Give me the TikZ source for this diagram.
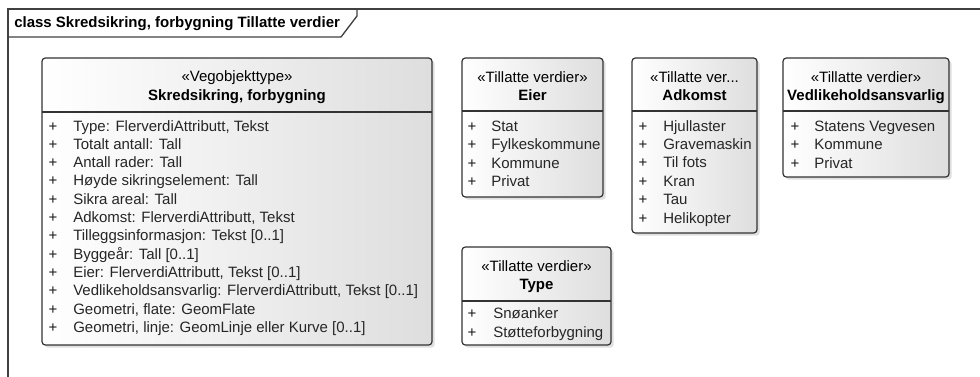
\documentclass[tikz,border=0pt]{standalone}
\usepackage{fontspec}
\setmainfont{Liberation Sans}
\usetikzlibrary{shadows}
\tikzset{
  classbox/.style={draw=black!80, line width=0.9pt, rounded corners=2.5pt,
    left color=white, right color=black!13,
    drop shadow={shadow xshift=2pt, shadow yshift=-2pt, opacity=0.25}},
  sepline/.style={draw=black!80, line width=0.9pt},
  stereo/.style={anchor=mid, inner sep=0pt, font=\fontsize{11.25}{13}\selectfont},
  cname/.style={anchor=mid, inner sep=0pt, font=\fontsize{11.25}{13}\selectfont\bfseries},
  plus/.style={anchor=mid, inner sep=0pt, text=black!90, font=\fontsize{11.25}{13}\selectfont},
  attr/.style={anchor=mid west, inner sep=0pt, text=black!85, font=\fontsize{11.25}{13}\selectfont},
}
\begin{document}
\begin{tikzpicture}[x=0.75pt, y=-0.75pt]
	\useasboundingbox (0,0) rectangle (980,376);
	% frame and tab
	\draw[black!75, line width=1pt] (8,9) rectangle (995,395);
	\draw[black!75, line width=1pt] (8,37) -- (341,37) -- (357,16) -- (357,9);
	\node[anchor=mid west, inner sep=0pt, font=\fontsize{11.25}{13}\selectfont\bfseries] (title) at (14,24) {class Skredsikring, forbygning Tillatte verdier};
	% Skredsikring, forbygning
	\path[classbox] (42,58) rectangle (432,345);
	\draw[sepline] (42,112) -- (432,112);
	\node[stereo] (veg-st) at (237,77.5) {«Vegobjekttype»};
	\node[cname] (veg-nm) at (237,96.5) {Skredsikring, forbygning};
	\foreach \t [count=\i from 0] in {{Type: FlerverdiAttributt, Tekst}, {Totalt antall: Tall}, {Antall rader: Tall}, {Høyde sikringselement: Tall}, {Sikra areal: Tall}, {Adkomst: FlerverdiAttributt, Tekst}, {Tilleggsinformasjon: Tekst [0..1]}, {Byggeår: Tall [0..1]}, {Eier: FlerverdiAttributt, Tekst [0..1]}, {Vedlikeholdsansvarlig: FlerverdiAttributt, Tekst [0..1]}, {Geometri, flate: GeomFlate}, {Geometri, linje: GeomLinje eller Kurve [0..1]}}{
		\node[plus] (veg-p\i) at (53,127.5+18.3*\i) {+};
		\node[attr] (veg-a\i) at (73,127.5+18.3*\i) {\t};
	}
	% Eier
	\path[classbox] (462,58) rectangle (603,197);
	\draw[sepline] (462,111) -- (603,111);
	\node[stereo] (eier-st) at (532.5,78.5) {«Tillatte verdier»};
	\node[cname] (eier-nm) at (532.5,96.5) {Eier};
	\foreach \t [count=\i from 0] in {Stat, Fylkeskommune, Kommune, Privat}{
		\node[plus] (eier-p\i) at (472,127.5+18.5*\i) {+};
		\node[attr] (eier-a\i) at (491,127.5+18.5*\i) {\t};
	}
	% Adkomst
	\path[classbox] (632,58) rectangle (757,233);
	\draw[sepline] (632,111) -- (757,111);
	\node[stereo] (adk-st) at (694.5,78.5) {«Tillatte ver...};
	\node[cname] (adk-nm) at (694.5,96.5) {Adkomst};
	\foreach \t [count=\i from 0] in {Hjullaster, Gravemaskin, Til fots, Kran, Tau, Helikopter}{
		\node[plus] (adk-p\i) at (643,127.5+18.4*\i) {+};
		\node[attr] (adk-a\i) at (663,127.5+18.4*\i) {\t};
	}
	% Vedlikeholdsansvarlig
	\path[classbox] (783,58) rectangle (949,177);
	\draw[sepline] (783,111) -- (949,111);
	\node[stereo] (ved-st) at (866,78.5) {«Tillatte verdier»};
	\node[cname] (ved-nm) at (866,96.5) {Vedlikeholdsansvarlig};
	\foreach \t [count=\i from 0] in {Statens Vegvesen, Kommune, Privat}{
		\node[plus] (ved-p\i) at (795,127.5+18.5*\i) {+};
		\node[attr] (ved-a\i) at (814,127.5+18.5*\i) {\t};
	}
	% Type
	\path[classbox] (462,247) rectangle (611,345);
	\draw[sepline] (462,301) -- (611,301);
	\node[stereo] (typ-st) at (536.5,267.5) {«Tillatte verdier»};
	\node[cname] (typ-nm) at (536.5,285.5) {Type};
	\foreach \t [count=\i from 0] in {Snøanker, Støtteforbygning}{
		\node[plus] (typ-p\i) at (472,315+18.8*\i) {+};
		\node[attr] (typ-a\i) at (493,315+18.8*\i) {\t};
	}
\end{tikzpicture}
\end{document}
